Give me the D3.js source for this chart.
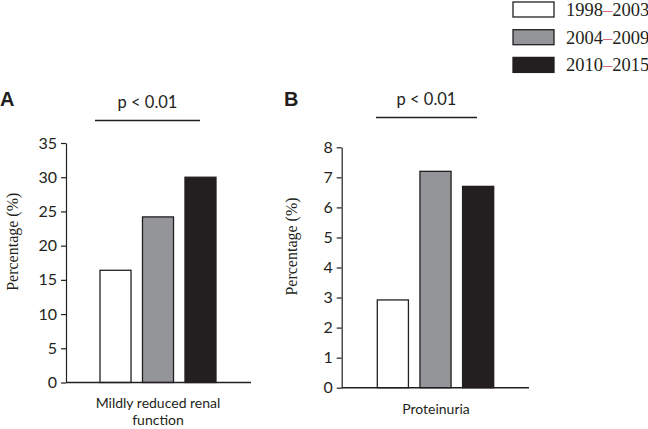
<!DOCTYPE html>
<html><head><meta charset="utf-8">
<script src="https://cdn.jsdelivr.net/npm/d3@7"></script>
<style>body{margin:0;background:#fff}svg{display:block}</style>
</head><body>
<svg id="c" width="648" height="429"></svg>
<script>
const periods = ["1998\u20132003","2004\u20132009","2010\u20132015"];
const colors = ["#ffffff","#939598","#231f20"];
const valuesA = [16.4, 24.2, 30.0];
const valuesB = [2.92, 7.2, 6.7];
const ticksA = [0,5,10,15,20,25,30,35];
const ticksB = [0,1,2,3,4,5,6,7,8];
const svg = d3.select("#c");
const sans = "Lato, 'Open Sans', sans-serif";
const serif = "'Liberation Serif', 'DejaVu Serif', serif";

function panel(cfg){
  const g = svg.append("g");
  const y = d3.scaleLinear().domain([0,cfg.max]).range([cfg.y0,cfg.y1]);
  const x = d3.scaleBand().domain(periods).range([cfg.bx0,cfg.bx1]).paddingInner(0.27).paddingOuter(0);
  const ax = g.append("g").attr("transform",`translate(${cfg.ax},0)`)
    .call(d3.axisLeft(y).tickValues(cfg.ticks).tickSize(5).tickSizeOuter(0));
  ax.select(".domain").attr("stroke","#231f20").attr("stroke-width",1.2);
  ax.selectAll(".tick line").attr("stroke","#231f20").attr("stroke-width",1.2);
  ax.selectAll(".tick text").attr("font-family",sans).attr("font-size",16).attr("fill","#231f20").attr("x",-9);
  g.selectAll("rect.bar").data(cfg.values).join("rect")
    .attr("x",(d,i)=>x(periods[i])).attr("width",x.bandwidth())
    .attr("y",d=>y(d)).attr("height",d=>y(0)-y(d))
    .attr("fill",(d,i)=>colors[i]).attr("stroke","#231f20").attr("stroke-width",1.3);
  g.append("line").attr("x1",cfg.ax).attr("x2",cfg.xend).attr("y1",y(0)).attr("y2",y(0))
    .attr("stroke","#231f20").attr("stroke-width",1.5);
  g.append("text").attr("transform",`translate(${cfg.lx},${(y(0)+y(cfg.max))/2 - 21}) rotate(-90)`)
    .attr("text-anchor","middle").attr("font-family",serif).attr("font-size",16).attr("fill","#231f20")
    .text("Percentage (%)");
  g.append("line").attr("x1",cfg.sx0).attr("x2",cfg.sx1).attr("y1",cfg.sy).attr("y2",cfg.sy)
    .attr("stroke","#231f20").attr("stroke-width",1.4);
  g.append("text").attr("x",(cfg.sx0+cfg.sx1)/2).attr("y",cfg.sy-13).attr("text-anchor","middle")
    .attr("font-family",sans).attr("font-size",16.5).attr("fill","#231f20").text("p < 0.01");
  g.append("text").attr("x",cfg.letterX).attr("y",106).attr("font-family","'Liberation Sans', Arial, sans-serif")
    .attr("font-weight","bold").attr("font-size",20).attr("fill","#231f20").text(cfg.letter);
  cfg.xlabel.forEach((t,i)=>{
    g.append("text").attr("x",cfg.xlc).attr("y",cfg.xly + i*16.5).attr("text-anchor","middle")
      .attr("font-family",sans).attr("font-size",14).attr("fill","#231f20").text(t);
  });
}

panel({max:35,ticks:ticksA,values:valuesA,y0:382.5,y1:143,ax:66,xend:251,bx0:100,bx1:216,
  lx:18,sx0:95,sx1:200,sy:120.5,letter:"A",letterX:0,xlabel:["Mildly reduced renal","function"],xlc:158,xly:408});
panel({max:8,ticks:ticksB,values:valuesB,y0:387.7,y1:147.3,ax:341.7,xend:529,bx0:377.3,bx1:493.7,
  lx:297,sx0:376,sx1:477,sy:117.5,letter:"B",letterX:284,xlabel:["Proteinuria"],xlc:436,xly:414});

// legend
const leg = svg.append("g");
periods.forEach((p,i)=>{
  const yy = 2 + i*27.7;
  leg.append("rect").attr("x",513).attr("y",yy).attr("width",41).attr("height",15)
    .attr("fill",colors[i]).attr("stroke","#231f20").attr("stroke-width",1.3);
  const parts = p.split("\u2013");
  const t = leg.append("text").attr("x",566).attr("y",yy+14).attr("font-family",serif)
    .attr("font-size",18.5).attr("fill","#231f20");
  t.append("tspan").text(parts[0]);
  t.append("tspan").attr("fill","#d9657a").text("\u2013");
  t.append("tspan").text(parts[1]);
});
</script>
</body></html>
